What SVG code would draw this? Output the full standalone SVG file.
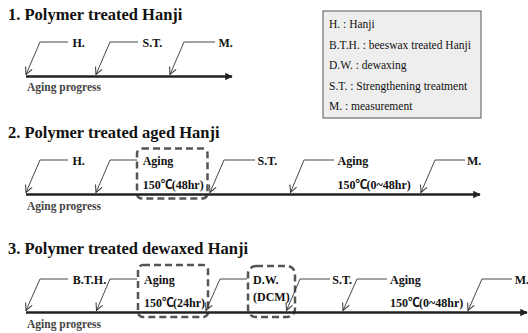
<svg xmlns="http://www.w3.org/2000/svg" width="528" height="333" viewBox="0 0 528 333">
<style>
.title{font-family:"Liberation Serif","Noto Sans CJK KR",serif;font-weight:bold;font-size:16.5px;fill:#111}
.lbl{font-family:"Liberation Serif","Noto Sans CJK KR",serif;font-weight:bold;font-size:12px;fill:#111}
.deg{letter-spacing:-1px}
.prog{font-family:"Liberation Serif",serif;font-weight:bold;font-size:11.5px;fill:#444}
.leg{font-family:"Liberation Serif",serif;font-size:11.5px;fill:#111}
.axis{stroke:#222;stroke-width:2.5;fill:none}
.co{stroke:#333;stroke-width:0.9;fill:none;marker-end:url(#v)}
.dbox{fill:none;stroke:#555;stroke-width:2.5;stroke-dasharray:7 4}
</style>
<defs>
<marker id="v" viewBox="0 0 10 10" refX="9" refY="5" markerWidth="9" markerHeight="9" markerUnits="userSpaceOnUse" orient="auto">
<path d="M1,1 L9,5 L1,9" fill="none" stroke="#333" stroke-width="1.1"/>
</marker>
<marker id="ah" viewBox="0 0 10 10" refX="9" refY="5" markerWidth="3" markerHeight="3" orient="auto">
<path d="M0,0 L10,5 L0,10 Z" fill="#222"/>
</marker>
</defs>

<g id="legend">
<rect x="323" y="11" width="158" height="107" fill="#eeeeee" stroke="#555" stroke-width="1"/>
<text class="leg" x="329" y="28">H. : Hanji</text>
<text class="leg" x="329" y="48.5">B.T.H. : beeswax treated Hanji</text>
<text class="leg" x="329" y="69">D.W. : dewaxing</text>
<text class="leg" x="329" y="89.5">S.T. : Strengthening treatment</text>
<text class="leg" x="329" y="110">M. : measurement</text>
</g>

<g id="section1">
<text class="title" x="8" y="20">1. Polymer treated Hanji</text>
<text class="lbl" x="72.5" y="46.5">H.</text>
<text class="lbl" x="142.5" y="46.5">S.T.</text>
<text class="lbl" x="218.5" y="46.5">M.</text>
<text class="prog" x="27" y="91">Aging progress</text>
</g>

<g id="section2">
<text class="title" x="8" y="137.5">2. Polymer treated aged Hanji</text>
<text class="lbl" x="72.5" y="164.5">H.</text>
<g id="s2-aging1">
<rect class="dbox" x="137" y="148.5" width="70.5" height="50" rx="5"/>
<text class="lbl" x="142.7" y="164.5">Aging</text>
<text class="lbl" x="142.7" y="189">150<tspan class="deg">℃</tspan>(48hr)</text>
</g>
<text class="lbl" x="257.5" y="164.5">S.T.</text>
<text class="lbl" x="337.5" y="164.5">Aging</text>
<text class="lbl" x="337.5" y="188.5">150<tspan class="deg">℃</tspan>(0~48hr)</text>
<text class="lbl" x="467" y="164.5">M.</text>
<text class="prog" x="27" y="210">Aging progress</text>
</g>

<g id="section3">
<text class="title" x="8" y="254">3. Polymer treated dewaxed Hanji</text>
<text class="lbl" x="72.7" y="283.5">B.T.H.</text>
<g id="s3-aging1">
<rect class="dbox" x="138" y="265" width="70" height="52" rx="5"/>
<text class="lbl" x="144" y="283.5">Aging</text>
<text class="lbl" x="144" y="307">150<tspan class="deg">℃</tspan>(24hr)</text>
</g>
<g id="s3-dewax">
<rect class="dbox" x="248" y="266" width="47" height="51" rx="8"/>
<text class="lbl" x="253" y="284">D.W.</text>
<text class="lbl" x="253" y="301">(DCM)</text>
</g>
<text class="lbl" x="332.3" y="283.5">S.T.</text>
<text class="lbl" x="390" y="283.5">Aging</text>
<text class="lbl" x="390" y="307">150<tspan class="deg">℃</tspan>(0~48hr)</text>
<text class="lbl" x="514.7" y="283.5">M.</text>
<text class="prog" x="27" y="328">Aging progress</text>
</g>

<g id="connectors">
<line class="axis" x1="26" y1="76.5" x2="232" y2="76.5" marker-end="url(#ah)"/>
<line class="axis" x1="26" y1="194.5" x2="480" y2="194.5" marker-end="url(#ah)"/>
<line class="axis" x1="26" y1="312.5" x2="527" y2="312.5" marker-end="url(#ah)"/>
<path class="co" d="M68,42 H40 L26,74.5"/>
<path class="co" d="M138,42 H110 L96,74.5"/>
<path class="co" d="M215,42 H184 L170,74.5"/>
<path class="co" d="M68,160 H40 L26,192.5"/>
<path class="co" d="M137,160 H110 L96,192.5"/>
<path class="co" d="M255,160 H224 L210,192.5"/>
<path class="co" d="M334,160 H304 L290.5,192.5"/>
<path class="co" d="M465,160 H435 L421,192.5"/>
<path class="co" d="M68,279 H40 L26,310.5"/>
<path class="co" d="M137,279 H110 L96.5,310.5"/>
<path class="co" d="M247,279 H220 L206,310.5"/>
<path class="co" d="M330,279 H300 L286.5,310.5"/>
<path class="co" d="M387,279 H357 L343,310.5"/>
<path class="co" d="M512,279 H482 L468,310.5"/>
</g>
</svg>
